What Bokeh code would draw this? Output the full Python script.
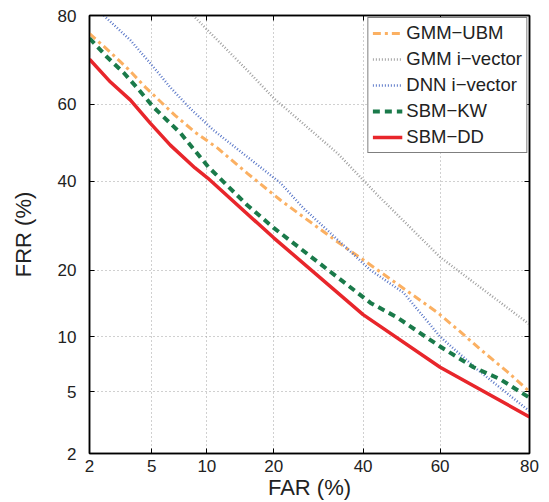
from statistics import NormalDist
from bokeh.plotting import figure
from bokeh.models import (FixedTicker, LinearAxis, Range1d, CustomJSTickFormatter,
                          CustomLabelingPolicy)
from bokeh.embed import file_html
from bokeh.resources import INLINE

# ---- data (percent) ----
tick_labels = [2, 5, 10, 20, 40, 60, 80]

gmm_ubm_far = [2, 2.77, 3.6, 4.6, 6.8, 8.7, 11.3, 15.5, 21.3, 33.7, 42.6, 59.3, 65, 69.8, 75.7, 80]
gmm_ubm_frr = [76.5, 72.5, 68.7, 64.3, 57.2, 52.8, 48.6, 42, 35.2, 25.6, 20.6, 13.1, 10.6, 8.6, 6.5, 5.0]

gmm_iv_far = [8.5, 15.5, 20, 33.7, 43.7, 60, 80]
gmm_iv_frr = [80, 68.4, 61.6, 47.2, 36.5, 22.5, 11.5]

dnn_iv_far = [2.5, 3.72, 4.92, 6.4, 8.2, 10.8, 15.5, 21.3, 25.9, 41.9, 50.5, 60, 69.1, 80]
dnn_iv_frr = [80, 75.1, 70, 64.3, 59, 53.3, 46.3, 39.5, 33.3, 20, 16.1, 10, 6.7, 3.8]

sbm_kw_far = [2, 2.64, 3.36, 4.11, 5.13, 7.3, 10.2, 15.5, 20, 41.9, 48.9, 60, 68.2, 74.2, 80]
sbm_kw_frr = [75.5, 71.4, 67.9, 64.1, 59.3, 52.5, 43.6, 34, 28.7, 14.5, 12.4, 8.9, 6.9, 5.9, 4.6]

sbm_dd_far = [2, 2.77, 3.72, 4.92, 6.4, 8.7, 10.1, 20, 40, 60, 80]
sbm_dd_frr = [71, 65.6, 61.1, 55.1, 49.4, 43.4, 40.8, 26.5, 12.8, 6.9, 3.5]

nd = NormalDist()


def probit(vals):
    return [nd.inv_cdf(v / 100.0) for v in vals]


ticks = probit(tick_labels)
labels = [str(t) for t in tick_labels]

FONT = "Liberation Sans"

p = figure(width=540, height=502,
           x_range=Range1d(ticks[0], ticks[-1]), y_range=Range1d(ticks[0], ticks[-1]),
           output_backend="svg", toolbar_location=None,
           min_border_left=89, min_border_right=11, min_border_top=15, min_border_bottom=48)

fmt_code = """
const t = %s; const l = %s;
let b = 0;
for (let i = 0; i < t.length; i++) { if (Math.abs(t[i]-tick) < Math.abs(t[b]-tick)) b = i; }
return l[b];
""" % (ticks, labels)


def style_axis(ax, show_labels=True):
    ax.ticker = FixedTicker(ticks=ticks)
    ax.formatter = CustomJSTickFormatter(code=fmt_code)
    ax.axis_line_color = "black"
    ax.axis_line_width = 1.5
    ax.major_tick_in = 5
    ax.major_tick_out = 0
    ax.major_tick_line_color = "black"
    ax.major_tick_line_width = 1
    ax.minor_tick_line_color = None
    ax.major_label_text_font = FONT
    ax.major_label_text_color = "#222222"
    ax.major_label_text_font_size = "17px"
    if not show_labels:
        ax.major_label_policy = CustomLabelingPolicy(code="return new Set()")
        ax.major_label_text_font_size = "1px"
        ax.major_label_standoff = 0


style_axis(p.xaxis[0])
style_axis(p.yaxis[0])
p.xaxis.major_label_standoff = 6
p.yaxis.major_label_standoff = 13
p.xaxis.axis_label = "FAR (%)"
p.yaxis.axis_label = "FRR (%)"
for ax in (p.xaxis[0], p.yaxis[0]):
    ax.axis_label_text_font = FONT
    ax.axis_label_text_font_size = "22px"
    ax.axis_label_text_font_style = "normal"
    ax.axis_label_text_color = "#222222"
p.xaxis.axis_label_standoff = 0
p.yaxis.axis_label_standoff = 19

ax_top = LinearAxis()
ax_right = LinearAxis()
style_axis(ax_top, False)
style_axis(ax_right, False)
p.add_layout(ax_top, "above")
p.add_layout(ax_right, "right")

p.xgrid.ticker = FixedTicker(ticks=ticks)
p.ygrid.ticker = FixedTicker(ticks=ticks)
for g in (p.xgrid[0], p.ygrid[0]):
    g.grid_line_color = "#a0a0a0"
    g.grid_line_dash = "1 3"
    g.grid_line_width = 1

p.outline_line_color = "black"
p.outline_line_width = 1.5

p.line(probit(gmm_ubm_far), probit(gmm_ubm_frr), line_color="#fbb062", line_width=3,
       line_dash="8 4 3 4", legend_label="GMM\u2212UBM")
p.line(probit(gmm_iv_far), probit(gmm_iv_frr), line_color="#a0a0a0", line_width=2.5,
       line_dash="1 2", legend_label="GMM i\u2212vector")
p.line(probit(dnn_iv_far), probit(dnn_iv_frr), line_color="#5b78c8", line_width=2.5,
       line_dash="1 2", legend_label="DNN i\u2212vector")
p.line(probit(sbm_kw_far), probit(sbm_kw_frr), line_color="#1a7a4a", line_width=4,
       line_dash="7 5", legend_label="SBM\u2212KW")
p.line(probit(sbm_dd_far), probit(sbm_dd_frr), line_color="#e8262b", line_width=3.5,
       legend_label="SBM\u2212DD")

lg = p.legend[0]
lg.location = "top_right"
lg.border_line_color = "black"
lg.border_line_width = 1.5
lg.label_text_font = FONT
lg.label_text_font_size = "18.5px"
lg.label_text_color = "#222222"
lg.glyph_width = 30
lg.glyph_height = 22
lg.label_height = 22
lg.label_standoff = 4
lg.spacing = 4
lg.padding = 4
lg.margin = 2
lg.background_fill_alpha = 1.0

open("out.html", "w").write(file_html(p, INLINE))
